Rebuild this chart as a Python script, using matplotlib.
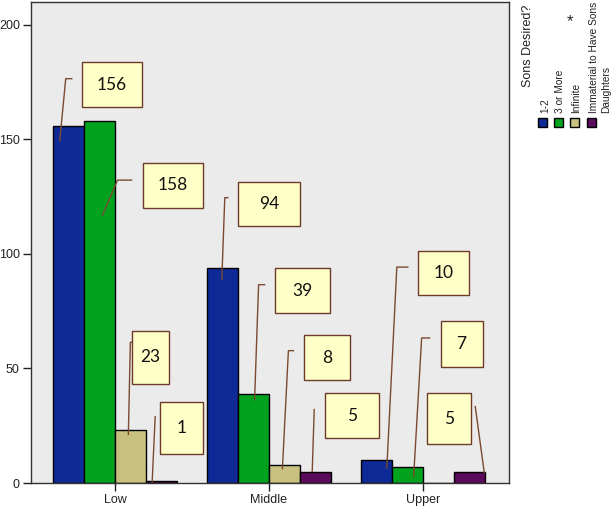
import numpy as np
import matplotlib.pyplot as plt
from matplotlib.patches import Rectangle

plt.rcParams['font.family'] = ['Liberation Sans', 'DejaVu Sans']

groups = ['Low', 'Middle', 'Upper']
series_names = ['1-2', '3 or More', 'Infinite', 'Immaterial to Have Sons\nDaughters']
sons_1_2 = [156, 94, 10]
sons_3_more = [158, 39, 7]
sons_infinite = [23, 8, 0]
sons_immaterial = [1, 5, 5]
all_series = [sons_1_2, sons_3_more, sons_infinite, sons_immaterial]

colors = ['#0E2A97', '#00A21E', '#C8C07E', '#5C0A5A']
bar_w = 0.2

# callouts: (group, series, box centre offset px, box size px, leader pts offset px)
# offsets in pixels from the bar top centre, y measured downwards
callouts = [
    (0, 0, (43, -41), (60, 45), [(-9, 15), (-3, -47), (3, -47)]),
    (0, 1, (73, 64), (60, 45), [(3, 94), (18, 59), (32, 59)]),
    (0, 2, (20, -73), (37, 53), [(-2, 4), (0, -88), (1, -88)]),
    (0, 3, (20, -53), (43, 52), [(-9, 1), (-6, -64)]),
    (1, 0, (46, -64), (62, 44), [(-1, 12), (2, -70), (5, -70)]),
    (1, 1, (49, -103), (55, 45), [(1, 6), (5, -109), (11, -109)]),
    (1, 2, (43, -107), (46, 45), [(-2, 4), (4, -114), (9, -114)]),
    (1, 3, (37, -56), (54, 45), [(-3, 0), (-1, -62)]),
    (2, 0, (67, -187), (51, 44), [(10, 8), (20, -193), (31, -193)]),
    (2, 1, (54, -123), (42, 46), [(6, 10), (14, -129), (22, -129)]),
    (2, 3, (-20, -53), (44, 51), [(15, 1), (6, -65)]),
]

fig = plt.figure(figsize=(6.14, 5.08), dpi=100)
ax = fig.add_axes([31 / 614, 25 / 508, 478 / 614, 481 / 508])
ax.set_facecolor('#EBEBEB')

x = np.arange(len(groups))
for j, vals in enumerate(all_series):
    ax.bar(x + (j - 1.5) * bar_w, vals, bar_w, color=colors[j],
           edgecolor='black', linewidth=1.0, zorder=2)

ax.set_xlim(-0.545, 2.558)
ax.set_ylim(0, 210)
ax.set_yticks([0, 50, 100, 150, 200])
ax.set_xticks(x)
ax.set_xticklabels(groups)
ax.tick_params(axis='both', length=6, width=1, labelsize=9, colors='#222222', pad=2)
for s in ax.spines.values():
    s.set_color('#333333')
    s.set_linewidth(1)

fig.canvas.draw()
to_data = ax.transData.inverted()


def px_to_data(anchor, off):
    return to_data.transform((anchor[0] + off[0], anchor[1] - off[1]))


for g, j, (bx, by), (bw, bh), leader in callouts:
    val = all_series[j][g]
    anchor = ax.transData.transform((x[g] + (j - 1.5) * bar_w, val))
    pts = np.array([px_to_data(anchor, p) for p in leader])
    ax.plot(pts[:, 0], pts[:, 1], color='#7A4A30', linewidth=1, zorder=3)
    (x0, y0) = px_to_data(anchor, (bx - bw / 2, by + bh / 2))
    (x1, y1) = px_to_data(anchor, (bx + bw / 2, by - bh / 2))
    ax.add_patch(Rectangle((x0, y0), x1 - x0, y1 - y0, facecolor='#FFFFC8',
                           edgecolor='#6B3A2A', linewidth=1, zorder=4))
    ax.text((x0 + x1) / 2, (y0 + y1) / 2, str(val), ha='center', va='center',
            fontsize=12.5, family='Lato', color='#111111', zorder=5)

# legend, rotated like the original
H = 508
fig.text(528 / 614, 1 - 87 / H, 'Sons Desired?', rotation=90, rotation_mode='anchor',
         ha='left', va='center', fontsize=9, color='#222222')
fig.text(570 / 614, 1 - 22 / H, '*', ha='center', va='center', fontsize=12, color='#222222')
sq_x = [538, 554, 570, 587]
txt_x = [545, 560, 576, 594]
for j, name in enumerate(series_names):
    fig.add_artist(Rectangle((sq_x[j] / 614, 1 - 127 / H), 9 / 614, 9 / H,
                             facecolor=colors[j], edgecolor='black', linewidth=1,
                             transform=fig.transFigure))
    for k, line in enumerate(name.split('\n')):
        fig.text((txt_x[j] + 12 * k) / 614, 1 - 113 / H, line, rotation=90,
                 rotation_mode='anchor', ha='left', va='center', fontsize=7.3,
                 color='#222222')

fig.savefig('out.png', dpi=100)
